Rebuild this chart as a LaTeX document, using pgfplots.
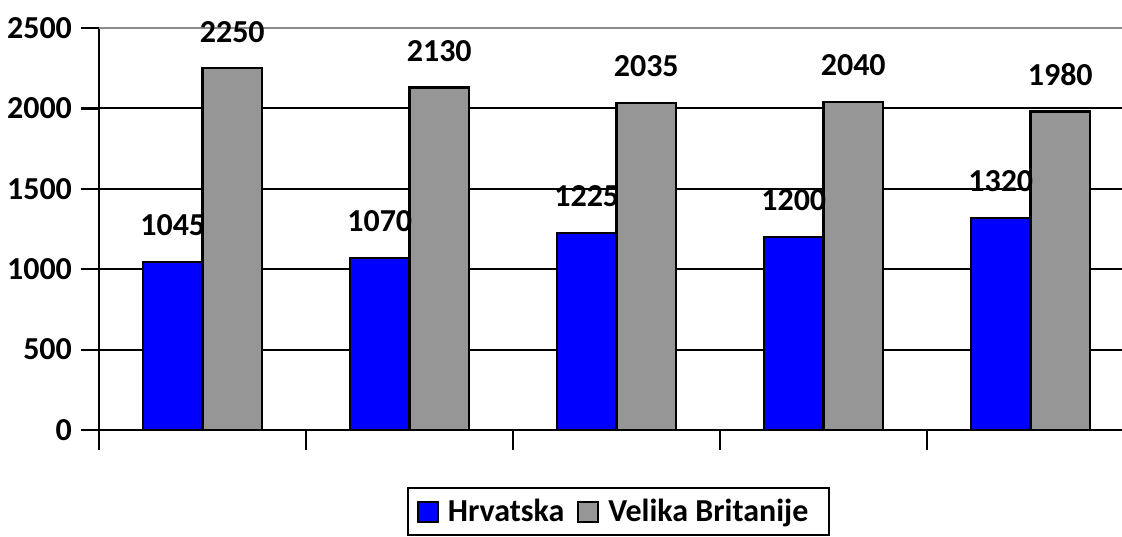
\documentclass[border=0pt]{standalone}
\usepackage{pgfplots}
\pgfplotsset{compat=1.18}
\usepackage{fontspec}
\setmainfont{Carlito}
\definecolor{hrblue}{HTML}{0000FF}
\definecolor{vbgray}{HTML}{969696}
\begin{document}
\begin{tikzpicture}
\begin{axis}[
  at={(0,0)}, anchor=south west,
  scale only axis,
  width=517.5pt, height=201pt,
  xmin=-0.5, xmax=4.5,
  ymin=0, ymax=2500,
  ytick={0,500,1000,1500,2000,2500},
  xtick={-0.5,0.5,1.5,2.5,3.5,4.5},
  xticklabels={},
  axis x line*=bottom,
  axis y line*=left,
  axis line style={line width=1.1pt, black, -},
  tick style={line width=1.1pt, black},
  major tick length=9pt,
  xtick style={/pgfplots/major tick length=10pt},
  tick align=outside,
  ymajorgrids,
  grid style={line width=1pt, black},
  yticklabel style={font=\bfseries\fontsize{16}{16}\selectfont, xshift=-1pt},
  /pgf/number format/assume math mode=true,
  /pgf/number format/1000 sep={},
  scaled y ticks=false,
  ybar=0pt,
  bar width=29.75pt,
  nodes near coords,
  nodes near coords style={font=\bfseries\fontsize{16}{16}\selectfont, anchor=south, yshift=9pt, black, /pgf/number format/1000 sep={}},
  legend style={at={(0.2976,-0.1418)}, anchor=north west, draw=black, line width=1pt,
    font=\bfseries\fontsize{16}{16}\selectfont, inner xsep=4.5pt, inner ysep=3.5pt,
    /tikz/every odd column/.append style={column sep=2.5pt},
    /tikz/every even column/.append style={column sep=4.5pt}},
  legend columns=2,
  legend image code/.code={\draw[#1, draw=black, line width=0.9pt] (0pt,-5pt) rectangle (10pt,5pt);},
  clip=false,
]
\addplot[fill=hrblue, draw=black, line width=1.2pt] coordinates {(0,1045) (1,1070) (2,1225) (3,1200) (4,1320)};
\addplot[fill=vbgray, draw=black, line width=1.2pt] coordinates {(0,2250) (1,2130) (2,2035) (3,2040) (4,1980)};
\legend{Hrvatska, Velika Britanije\hspace*{4pt}}
\draw[line width=1.2pt, gray!90] (rel axis cs:0,1) -- (rel axis cs:1,1);
\end{axis}
\pgfresetboundingbox
\path[use as bounding box] (-49.5pt,-53pt) rectangle (511.5pt,215pt);
\end{tikzpicture}
\end{document}
